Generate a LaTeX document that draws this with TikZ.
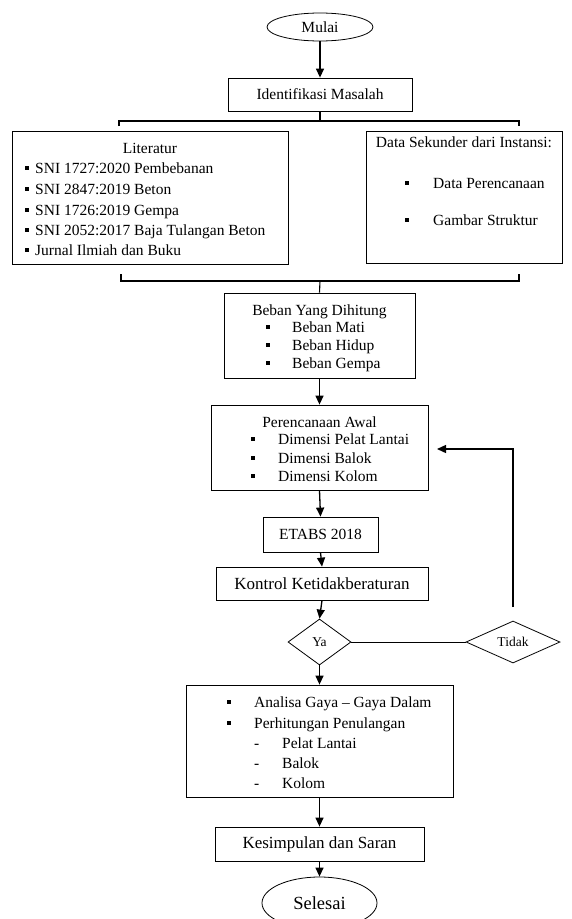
\documentclass[tikz,border=0pt]{standalone}
\usepackage{fontspec}
\setmainfont{Liberation Serif}
\usetikzlibrary{arrows.meta,shapes.geometric}
\tikzset{
 box/.style={draw, line width=0.8pt, inner sep=0pt},
 oval/.style={draw, ellipse, line width=0.8pt, inner sep=0pt},
 dia/.style={draw, diamond, line width=0.8pt, inner sep=0pt, font=\fontsize{13.5}{16}\selectfont},
 arr/.style={line width=1.3pt, -{Triangle[length=9pt,width=8pt]}},
 ln/.style={line width=1.1pt},
 txt/.style={inner sep=0pt, text height=0.7em, text depth=0.2em, yshift=-2.5pt},
 lt/.style={txt, anchor=west},
}
\newcommand\bsq[2]{\fill (#1-2,#2-2) rectangle (#1+2,#2+2);}
\begin{document}
\begin{tikzpicture}[x=1pt,y=-1pt,font=\fontsize{15.5}{18}\selectfont]
\useasboundingbox (0,0) rectangle (572,919);
% start
\node[oval, minimum width=106pt, minimum height=28pt] (mulai) at (320,27) {Mulai};
\node[box, minimum width=184pt, minimum height=33pt] (ident) at (320,94.5) {Identifikasi Masalah};
\draw[arr] (mulai.south) -- (ident.north);
% top bracket
\coordinate (tla) at (119,126); \coordinate (tl) at (119,121);
\coordinate (tra) at (519,126); \coordinate (tr) at (519,121);
\coordinate (tm) at (320,121);
\draw[ln] (tla) -- (tl) -- (tr) -- (tra);
\draw[ln] (ident.south) -- (tm);
% Literatur
\node[box, minimum width=276pt, minimum height=133pt] (lit) at (150,197.5) {};
\node[txt] (littitle) at (150,148) {Literatur};
\node[lt] (lit1) at (35,168) {SNI 1727:2020 Pembebanan};
\node[lt] (lit2) at (35,189) {SNI 2847:2019 Beton};
\node[lt] (lit3) at (35,210) {SNI 1726:2019 Gempa};
\node[lt] (lit4) at (35,230) {SNI 2052:2017 Baja Tulangan Beton};
\node[lt] (lit5) at (35,250) {Jurnal Ilmiah dan Buku};
\foreach \yy in {168,189,210,230,250}{\bsq{27}{\yy}}
% Data sekunder
\node[box, minimum width=196pt, minimum height=132pt] (data) at (464,197) {};
\node[txt] (datatitle) at (464,142) {Data Sekunder dari Instansi:};
\node[lt] (data1) at (433,183) {Data Perencanaan};
\node[lt] (data2) at (433,220) {Gambar Struktur};
\bsq{407}{183}\bsq{407}{220}
% bottom bracket
\coordinate (bla) at (121,274); \coordinate (bl) at (121,281);
\coordinate (bra) at (519,274); \coordinate (br) at (519,281);
\coordinate (bm) at (320,281);
\draw[ln] (bla) -- (bl) -- (br) -- (bra);
% Beban
\node[box, minimum width=191pt, minimum height=85pt] (beban) at (319.5,335.5) {};
\draw[ln] (bm) -- (beban.north);
\node[txt] (bebantitle) at (319.5,310) {Beban Yang Dihitung};
\node[lt] (beban1) at (292,327) {Beban Mati};
\node[lt] (beban2) at (292,345) {Beban Hidup};
\node[lt] (beban3) at (292,363) {Beban Gempa};
\foreach \yy in {327,345,363}{\bsq{268}{\yy}}
% Perencanaan
\node[box, minimum width=217pt, minimum height=85pt] (peren) at (319.5,447.5) {};
\draw[arr] (beban.south) -- (peren.north);
\node[txt] (perentitle) at (319.5,422) {Perencanaan Awal};
\node[lt] (peren1) at (278,439) {Dimensi Pelat Lantai};
\node[lt] (peren2) at (278,458) {Dimensi Balok};
\node[lt] (peren3) at (278,476) {Dimensi Kolom};
\foreach \yy in {439,458,476}{\bsq{253}{\yy}}
% ETABS
\node[box, minimum width=115pt, minimum height=35pt] (etabs) at (320.5,534.5) {ETABS 2018};
\draw[arr] (peren.south) -- (etabs.north);
% Kontrol
\node[box, minimum width=212pt, minimum height=33pt, font=\fontsize{17}{20}\selectfont] (kontrol) at (322,583.5) {Kontrol Ketidakberaturan};
\draw[arr] (etabs.south) -- (kontrol.north);
% decisions
\node[dia, minimum width=63pt, minimum height=46pt] (ya) at (319.5,642) {Ya};
\draw[arr] (kontrol.south) -- (ya.north);
\node[dia, minimum width=94pt, minimum height=42pt] (tidak) at (513,642) {Tidak};
\draw[line width=0.8pt] (ya.east) -- (tidak.west);
\coordinate (fbstart) at (513,607);
\coordinate (fbtip) at (437,449);
\draw[arr] (fbstart) |- (fbtip);
% Analisa
\node[box, minimum width=267pt, minimum height=112pt] (analisa) at (319.5,741) {};
\draw[arr] (ya.south) -- (analisa.north);
\node[lt] (an1) at (254,702) {Analisa Gaya -- Gaya Dalam};
\node[lt] (an2) at (254,723) {Perhitungan Penulangan};
\bsq{229}{702}\bsq{229}{723}
\node[lt] (an3) at (282,743) {Pelat Lantai};
\node[lt] (an4) at (282,763) {Balok};
\node[lt] (an5) at (282,783) {Kolom};
\node[lt] (d3) at (254,743) {-};
\node[lt] (d4) at (254,763) {-};
\node[lt] (d5) at (254,783) {-};
% Kesimpulan
\node[box, minimum width=209pt, minimum height=34pt, font=\fontsize{17}{20}\selectfont] (kes) at (319.5,844) {Kesimpulan dan Saran};
\draw[arr] (analisa.south) -- (kes.north);
\node[oval, minimum width=115pt, minimum height=52pt, font=\fontsize{18.5}{22}\selectfont] (selesai) at (319.5,903) {Selesai};
\draw[arr] (kes.south) -- (selesai.north);
\end{tikzpicture}
\end{document}
